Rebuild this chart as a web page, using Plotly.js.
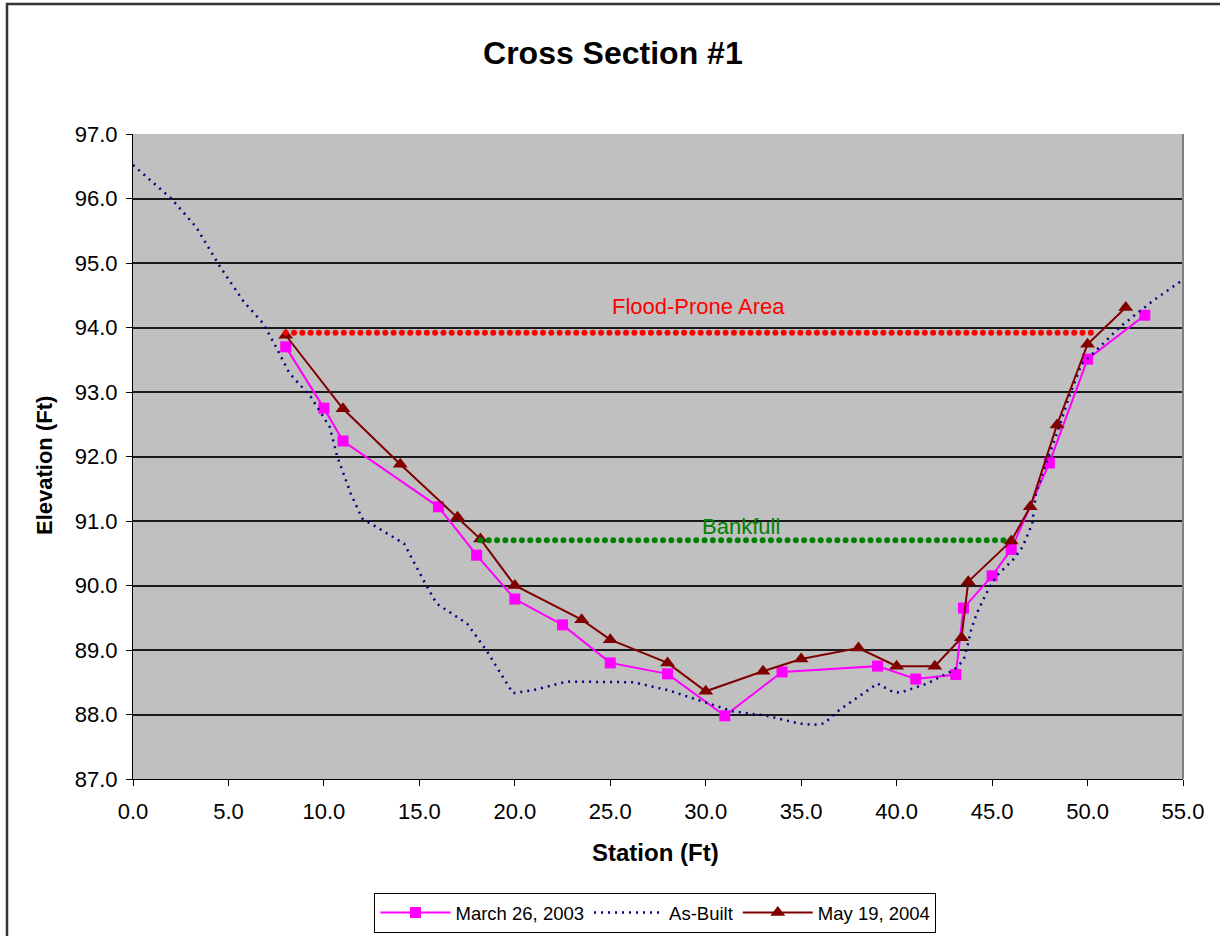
<!DOCTYPE html>
<html>
<head>
<meta charset="utf-8">
<script src="https://cdn.plot.ly/plotly-3.0.1.min.js"></script>
<style>html,body{margin:0;padding:0;background:#fff;} #chart{width:1220px;height:936px;}</style>
</head>
<body>
<div id="chart"></div>
<script>
// ---- Data ----
const march2003X = [8, 10, 11, 16, 18, 20, 22.5, 25, 28, 31, 34, 39, 41, 43.1, 43.5, 45, 46, 48, 50, 53];
const march2003Y = [93.70, 92.75, 92.24, 91.22, 90.47, 89.79, 89.39, 88.80, 88.63, 87.98, 88.66, 88.75, 88.55, 88.62, 89.65, 90.15, 90.56, 91.90, 93.51, 94.19];

const asBuiltX = [0, 2, 3.3, 4.5, 5.8, 6.8, 7.4, 8.2, 9.3, 10.3, 10.7, 11.4, 12, 14.2, 15.2, 15.9, 17.5, 18.5, 19.9, 21, 22.7, 26.2, 28, 29.7, 31.4, 33.2, 34.9, 35.7, 36.2, 37, 38.1, 39, 39.8, 40.2, 41.6, 43, 43.5, 43.7, 43.9, 44.2, 44.7, 45.2, 46.1, 46.6, 47.1, 47.3, 47.7, 48.4, 49.1, 49.7, 50.3, 51.7, 53.5, 55];
const asBuiltY = [96.52, 96.0, 95.56, 94.97, 94.40, 94.07, 93.75, 93.29, 92.93, 92.46, 92.0, 91.43, 91.04, 90.65, 90.09, 89.72, 89.41, 89.0, 88.33, 88.38, 88.51, 88.5, 88.38, 88.22, 88.05, 87.98, 87.86, 87.84, 87.86, 88.07, 88.30, 88.48, 88.35, 88.34, 88.48, 88.69, 88.84, 89.05, 89.31, 89.57, 89.88, 90.14, 90.40, 90.60, 90.96, 91.43, 91.79, 92.36, 92.98, 93.44, 93.60, 94.01, 94.43, 94.74];

const may2004X = [8, 11, 14, 17, 18.2, 20, 23.5, 25, 28, 30, 33, 35, 38, 40, 42, 43.4, 43.75, 46, 47, 48.4, 50, 52];
const may2004Y = [93.88, 92.74, 91.88, 91.06, 90.72, 90.0, 89.47, 89.16, 88.80, 88.36, 88.67, 88.86, 89.03, 88.75, 88.75, 89.19, 90.06, 90.69, 91.22, 92.49, 93.74, 94.31];

const floodX = [8, 50.5];
const floodY = [93.92, 93.92];
const bankfullX = [18.2, 46];
const bankfullY = [90.7, 90.7];

const seriesNames = ["March 26, 2003", "As-Built", "May 19, 2004"];
const chartTitle = "Cross Section #1";
const xTitle = "Station (Ft)";
const yTitle = "Elevation (Ft)";
const floodLabel = "Flood-Prone Area";
const bankfullLabel = "Bankfull";

const FONT = "'Liberation Sans', Arial, sans-serif";

const traces = [
  {x: march2003X, y: march2003Y, name: seriesNames[0], mode: "lines+markers",
   line: {color: "#FF00FF", width: 2},
   marker: {symbol: "square", size: 11, color: "#FF00FF"}},
  {x: asBuiltX, y: asBuiltY, name: seriesNames[1], mode: "lines",
   line: {color: "#000080", width: 2.5, dash: "2px,5px"}},
  {x: may2004X, y: may2004Y, name: seriesNames[2], mode: "lines+markers",
   line: {color: "#800000", width: 2},
   marker: {symbol: "triangle-up", size: 13, color: "#800000"}},
  {x: floodX, y: floodY, mode: "lines", showlegend: false, hoverinfo: "skip",
   line: {color: "#FF0000", width: 6, dash: "5px,3.3px"}},
  {x: bankfullX, y: bankfullY, mode: "lines", showlegend: false, hoverinfo: "skip",
   line: {color: "#008000", width: 6, dash: "5px,3.3px"}}
];

const layout = {
  width: 1220, height: 936,
  paper_bgcolor: "#FFFFFF",
  plot_bgcolor: "#C0C0C0",
  margin: {l: 133, r: 37, t: 134, b: 157, autoexpand: false},
  font: {family: FONT, color: "#000"},
  title: {text: "<b>" + chartTitle + "</b>", font: {size: 32, family: FONT, color: "#000"},
          x: 0.457, xref: "paper", xanchor: "center", y: 1 - 53/936, yref: "container", yanchor: "middle"},
  showlegend: true,
  legend: {orientation: "h", x: 0.4976, xanchor: "center", y: (779 - 893) / 645, yanchor: "top",
           bordercolor: "#000", borderwidth: 1, bgcolor: "#FFFFFF",
           font: {size: 18.5, family: FONT, color: "#000"}, itemwidth: 70},
  xaxis: {range: [0, 55], dtick: 5, tick0: 0, tickformat: ".1f", showgrid: false, zeroline: false,
          showline: true, linecolor: "#000", linewidth: 1, ticks: "outside", ticklen: 6, tickcolor: "#000",
          tickfont: {size: 22, family: FONT, color: "#000"}, ticklabelstandoff: 7, fixedrange: true},
  yaxis: {range: [87, 97], dtick: 1, tick0: 87, tickformat: ".1f", showgrid: true, gridcolor: "#1a1a1a", gridwidth: 2,
          zeroline: false, showline: true, linecolor: "#000", linewidth: 1, ticks: "outside", ticklen: 6, tickcolor: "#000",
          tickfont: {size: 22, family: FONT, color: "#000"}, ticklabelstandoff: 4, fixedrange: true},
  annotations: [
    {text: floodLabel, x: 29.6, y: 94.32, xref: "x", yref: "y", showarrow: false,
     font: {size: 22, color: "#FF0000", family: FONT}},
    {text: bankfullLabel, x: 31.85, y: 90.91, xref: "x", yref: "y", showarrow: false,
     font: {size: 22, color: "#008000", family: FONT}},
    {text: "<b>" + xTitle + "</b>", x: 0.4976, y: (779 - 852) / 645, xref: "paper", yref: "paper",
     showarrow: false, xanchor: "center", yanchor: "middle", font: {size: 24, family: FONT, color: "#000"}},
    {text: "<b>" + yTitle + "</b>", x: (45 - 133) / 1050, y: (779 - 466) / 645, xref: "paper", yref: "paper",
     showarrow: false, textangle: -90, xanchor: "center", yanchor: "middle", font: {size: 22, family: FONT, color: "#000"}}
  ],
  shapes: [
    {type: "line", xref: "paper", yref: "paper", x0: 1, x1: 1, y0: 0, y1: 1, line: {color: "#808080", width: 2}, layer: "above"},
    {type: "rect", xref: "paper", yref: "paper", x0: (7 - 133) / 1050, x1: (1240 - 133) / 1050,
     y0: (779 - 960) / 645, y1: (779 - 4) / 645, line: {color: "#333333", width: 2.5}, fillcolor: "rgba(0,0,0,0)"}
  ]
};

Plotly.newPlot("chart", traces, layout, {displayModeBar: false, staticPlot: true}).then(function () {
  const groups = document.querySelectorAll(".scatterlayer .trace");
  [3, 4].forEach(function (i) {
    if (groups[i]) {
      groups[i].querySelectorAll("path.js-line").forEach(function (p) {
        p.style.strokeLinecap = "round";
        p.style.strokeDasharray = "0px,8.3px";
      });
    }
  });
});
</script>
</body>
</html>
